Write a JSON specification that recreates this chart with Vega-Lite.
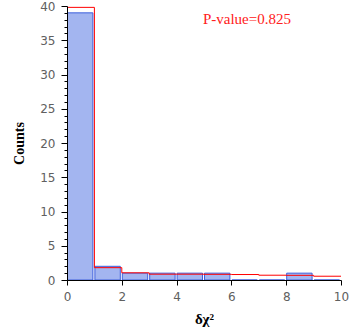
{
  "$schema": "https://vega.github.io/schema/vega-lite/v6.json",
  "autosize": "none",
  "width": 274,
  "height": 274,
  "padding": {"left": 67, "top": 6, "right": 9, "bottom": 55},
  "background": "white",
  "config": {"view": {"stroke": null}},
  "datasets": {
    "bins": [
      {"lo": 0, "hi": 1, "count": 39},
      {"lo": 1, "hi": 2, "count": 2},
      {"lo": 2, "hi": 3, "count": 1},
      {"lo": 3, "hi": 4, "count": 1},
      {"lo": 4, "hi": 5, "count": 1},
      {"lo": 5, "hi": 6, "count": 1},
      {"lo": 6, "hi": 7, "count": 0},
      {"lo": 7, "hi": 8, "count": 0},
      {"lo": 8, "hi": 9, "count": 1},
      {"lo": 9, "hi": 10, "count": 0}
    ],
    "expected": [
      {"x": 0, "e": 39.8},
      {"x": 1, "e": 1.8},
      {"x": 2, "e": 1.05},
      {"x": 3, "e": 0.85},
      {"x": 4, "e": 0.85},
      {"x": 5, "e": 0.83},
      {"x": 6, "e": 0.8},
      {"x": 7, "e": 0.7},
      {"x": 8, "e": 0.68},
      {"x": 9, "e": 0.55},
      {"x": 10, "e": 0.55}
    ],
    "note": [{"label": "P-value=0.825"}]
  },
  "resolve": {"axis": {"y": "independent", "x": "independent"}},
  "layer": [
    {
      "data": {"name": "bins"},
      "mark": {"type": "rect", "fill": "#a3b5f0", "stroke": "#3e5fdc", "strokeWidth": 1, "xOffset": 0.5, "x2Offset": -1.5},
      "encoding": {
        "x": {"field": "lo", "type": "quantitative",
          "scale": {"domain": [0, 10], "nice": false},
          "axis": {"values": [0, 2, 4, 6, 8, 10], "grid": false, "domainColor": "#000", "tickColor": "#000", "tickSize": 5,
            "labelPadding": 6, "labelDx": 3, "labelFont": "DejaVu Sans", "labelFontSize": 12, "labelColor": "#606060",
            "labelFlush": false, "labelOverlap": false, "zindex": 1,
            "title": "δχ²", "titleFont": "Liberation Serif", "titleFontSize": 15, "titleFontWeight": "bold", "titleColor": "#000", "titlePadding": 9}},
        "x2": {"field": "hi"},
        "y": {"field": "count", "type": "quantitative",
          "scale": {"domain": [0, 40], "nice": false},
          "axis": {"values": [0, 5, 10, 15, 20, 25, 30, 35, 40], "grid": false, "domainColor": "#000", "tickColor": "#000", "tickSize": 6,
            "labelPadding": 6, "labelFont": "DejaVu Sans", "labelFontSize": 12, "labelColor": "#606060", "labelFlush": false, "zindex": 1,
            "title": "Counts", "titleFont": "Liberation Serif", "titleFontSize": 14, "titleFontWeight": "bold", "titleColor": "#000", "titlePadding": 13}},
        "y2": {"datum": 0}
      }
    },
    {
      "data": {"name": "expected"},
      "mark": {"type": "line", "interpolate": "step-after", "color": "#ff0000", "strokeWidth": 1},
      "encoding": {
        "x": {"field": "x", "type": "quantitative", "axis": null},
        "y": {"field": "e", "type": "quantitative",
          "axis": {"orient": "left", "values": [1,2,3,4,6,7,8,9,11,12,13,14,16,17,18,19,21,22,23,24,26,27,28,29,31,32,33,34,36,37,38,39],
            "tickSize": 3, "tickColor": "#000", "labels": false, "domain": false, "grid": false, "title": null, "zindex": 1}}
      }
    },
    {
      "data": {"name": "note"},
      "mark": {"type": "text", "align": "left", "baseline": "middle", "font": "Liberation Serif", "fontSize": 15, "color": "#ff2020"},
      "encoding": {
        "x": {"datum": 4.96, "type": "quantitative", "axis": null},
        "y": {"datum": 38.1, "type": "quantitative", "axis": null},
        "text": {"field": "label"}
      }
    }
  ]
}
